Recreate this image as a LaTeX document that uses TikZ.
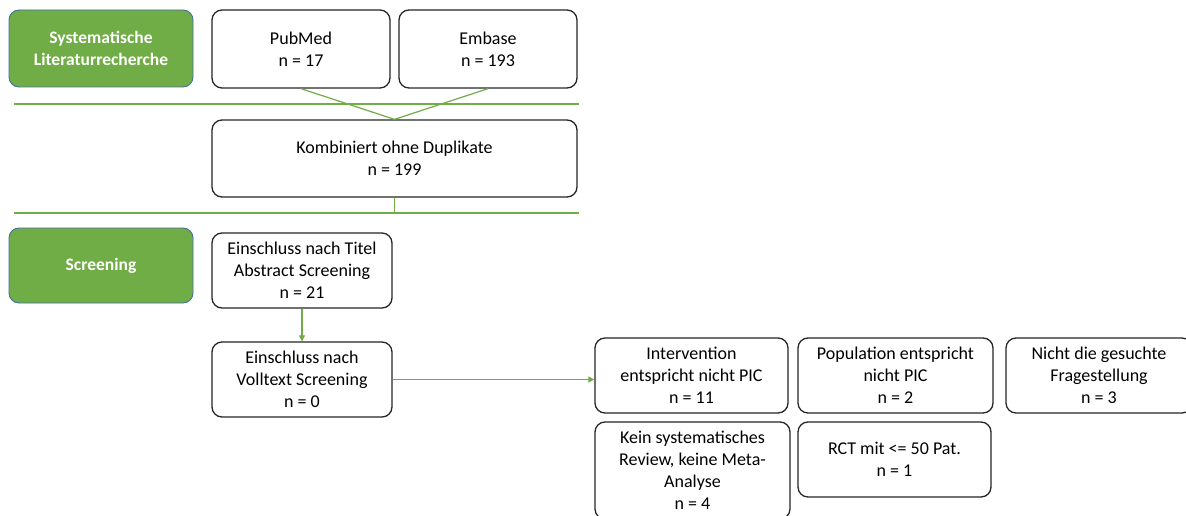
\documentclass[tikz,border=0pt]{standalone}
\usepackage{fontspec}
\setmainfont{Carlito}
\usetikzlibrary{arrows.meta}
\definecolor{phasegreen}{HTML}{70AD47}
\definecolor{phaseedge}{HTML}{41719C}
\definecolor{boxedge}{HTML}{262626}

\begin{document}
\begin{tikzpicture}[x=1pt,y=-1pt,
  box/.style={draw=boxedge, line width=1.3pt, rounded corners=10pt, fill=white,
    align=center, inner sep=0pt, font=\fontsize{18}{22}\selectfont},
  phase/.style={draw=phaseedge, line width=0.9pt, rounded corners=10pt, fill=phasegreen,
    text=white, align=center, inner sep=0pt, font=\fontsize{17.5}{22}\selectfont\bfseries},
  link/.style={draw=phasegreen, line width=1.2pt},
  arr/.style={link, -{Triangle[length=6pt,width=6pt]}}]

% page area
\clip (0,0) rectangle (1186,516);
\fill[white] (0,0) rectangle (1186,516);

% phase labels
\node[phase, minimum width=184pt, minimum height=77pt] (ph1) at (101,48.5)
  {Systematische\\Literaturrecherche};
\node[phase, minimum width=184pt, minimum height=75pt] (ph2) at (101,265.5)
  {Screening};

% search sources
\node[box, minimum width=178pt, minimum height=78pt] (pubmed) at (301,49)
  {PubMed\\n = 17};
\node[box, minimum width=178pt, minimum height=78pt] (embase) at (488,49)
  {Embase\\n = 193};
\node[box, minimum width=365pt, minimum height=77pt] (komb) at (394.5,158.5)
  {Kombiniert ohne Duplikate\\n = 199};

% screening steps
\node[box, minimum width=180pt, minimum height=75pt] (titel) at (302,270.5)
  {Einschluss nach Titel\\Abstract Screening\\n = 21};
\node[box, minimum width=180pt, minimum height=75pt] (voll) at (302,379.5)
  {Einschluss nach\\Volltext Screening\\n = 0};

% exclusion reasons
\node[box, minimum width=193pt, minimum height=75pt] (interv) at (691.5,375.5)
  {Intervention\\entspricht nicht PIC\\n = 11};
\node[box, minimum width=195pt, minimum height=75pt] (popul) at (895.5,375.5)
  {Population entspricht\\nicht PIC\\n = 2};
\node[box, minimum width=186pt, minimum height=75pt] (nicht) at (1099,375.5)
  {Nicht die gesuchte\\Fragestellung\\n = 3};
\node[box, minimum width=195pt, minimum height=97pt] (kein) at (692.5,470.5)
  {Kein systematisches\\Review, keine Meta-\\Analyse\\n = 4};
\node[box, minimum width=193pt, minimum height=75pt] (rct) at (894.5,459.5)
  {RCT mit <= 50 Pat.\\n = 1};

% phase separators
\coordinate (sepAl) at (14,104);
\coordinate (sepAr) at (579,104);
\coordinate (sepBl) at (14,213);
\coordinate (sepBr) at (579,213);
\draw[link] (sepAl) -- (sepAr);
\draw[link] (sepBl) -- (sepBr);

% connectors
\draw[link] (pubmed.south) -- (komb.north);
\draw[link] (embase.south) -- (komb.north);
\coordinate (kombfoot) at (komb.south |- sepBl);
\draw[link] (komb.south) -- (kombfoot);
\draw[arr] (titel.south) -- (voll.north);
\draw[arr] (voll.east) -- (voll.east -| interv.west);
\end{tikzpicture}
\end{document}
